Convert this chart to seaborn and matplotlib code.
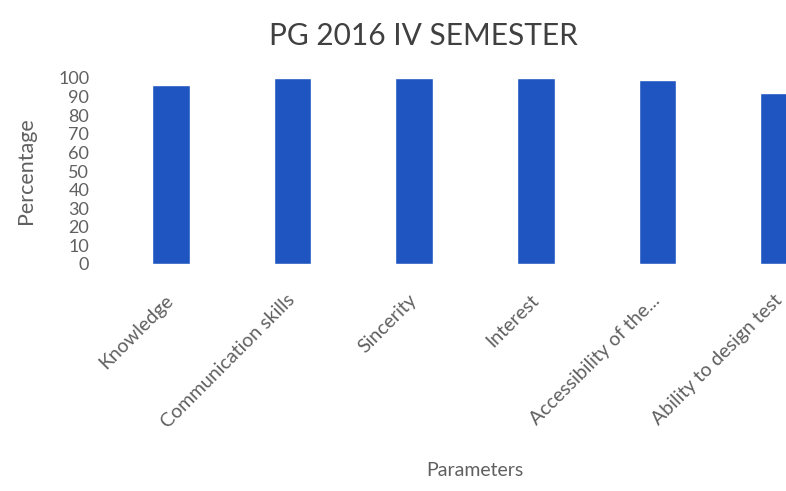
import matplotlib
matplotlib.use("Agg")
import matplotlib.pyplot as plt
import pandas as pd
import seaborn as sns

# --- dados ---
parametros = [
    "Knowledge",
    "Communication skills",
    "Sincerity",
    "Interest",
    "Accessibility of the...",
    "Ability to design test",
]
percentuais = [96, 100, 100, 100, 99, 92]
y_ticks = list(range(0, 101, 10))

df = pd.DataFrame({"Parametro": parametros, "Percentual": percentuais})

sns.set_theme(style="white")
plt.rcParams["font.family"] = ["Lato", "DejaVu Sans"]

COR_BARRA = "#1f55c0"
COR_TEXTO = "#606060"

fig = plt.figure(figsize=(7.86, 4.91), dpi=100)
# o eixo passa da borda direita (o original está cortado)
ax = fig.add_axes([110 / 786, (491 - 264) / 491, 730 / 786, 186 / 491])

sns.barplot(
    data=df,
    x="Parametro",
    y="Percentual",
    color=COR_BARRA,
    saturation=1,
    width=0.31,
    ax=ax,
)

ax.set_xlim(-0.5, 5.5)
ax.set_ylim(0, 100)
ax.set_yticks(y_ticks)
ax.set_yticklabels([str(v) for v in y_ticks], fontsize=13, color=COR_TEXTO)
ax.tick_params(axis="y", length=0, pad=15)
ax.tick_params(axis="x", length=0, pad=24)
plt.setp(
    ax.get_xticklabels(),
    rotation=45,
    ha="right",
    va="center",
    rotation_mode="anchor",
    fontsize=14,
    color=COR_TEXTO,
)

for lado in ["top", "right", "left", "bottom"]:
    ax.spines[lado].set_visible(False)

ax.set_xlabel("Parameters", fontsize=14, color=COR_TEXTO, labelpad=22)
ax.set_ylabel("Percentage", fontsize=15.5, color=COR_TEXTO, labelpad=16)

fig.text(423 / 786, 1 - 36 / 491, "PG 2016 IV SEMESTER",
         ha="center", va="center", fontsize=21.5, color="#404040")

fig.savefig("out.png", dpi=100)
plt.close(fig)
